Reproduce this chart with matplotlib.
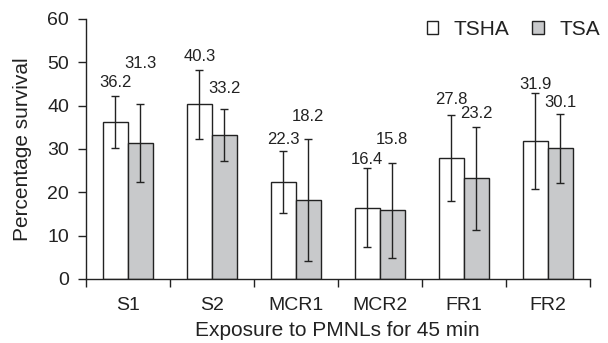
import numpy as np
import matplotlib
matplotlib.use('Agg')
from matplotlib import pyplot as plt

plt.rcParams['font.family'] = ['Liberation Sans', 'DejaVu Sans']

# data
groups = ['S1', 'S2', 'MCR1', 'MCR2', 'FR1', 'FR2']
tsha = [36.2, 40.3, 22.3, 16.4, 27.8, 31.9]
tsa = [31.3, 33.2, 18.2, 15.8, 23.2, 30.1]
tsha_err = [6.1, 8.0, 7.1, 9.1, 9.9, 11.1]
tsa_err = [9.0, 5.9, 14.1, 10.9, 11.9, 8.0]

# how far above the whisker top each value label sits (data units)
tsha_lbl_dy = [2.9, 3.0, 2.7, 2.1, 3.8, 1.8]
tsa_lbl_dy = [9.5, 4.9, 5.2, 5.4, 3.1, 2.6]

ink = '#222222'
grey = '#c8c9cb'
w = 0.295

fig = plt.figure(figsize=(6.08, 3.43), dpi=100)
ax = fig.add_axes([0.141, 0.187, 0.829, 0.758])

x = np.arange(len(groups))
err_kw = dict(ecolor=ink, elinewidth=1.0, capsize=2.9, capthick=1.0)

ax.bar(x - w / 2, tsha, w, color='white', edgecolor=ink, linewidth=1.0,
       yerr=tsha_err, error_kw=err_kw, label='TSHA', zorder=2)
ax.bar(x + w / 2, tsa, w, color=grey, edgecolor=ink, linewidth=1.0,
       yerr=tsa_err, error_kw=err_kw, label='TSA', zorder=2)

for i in range(len(groups)):
    ax.text(x[i] - w / 2, tsha[i] + tsha_err[i] + tsha_lbl_dy[i], f'{tsha[i]:.1f}',
            ha='center', va='center', fontsize=12, color=ink)
    ax.text(x[i] + w / 2, tsa[i] + tsa_err[i] + tsa_lbl_dy[i], f'{tsa[i]:.1f}',
            ha='center', va='center', fontsize=12, color=ink)

ax.set_xlim(-0.5, len(groups) - 0.5)
ax.set_ylim(0, 60)
ax.set_yticks(range(0, 61, 10))

# ticks between groups, names in the middle
ax.set_xticks(np.arange(-0.5, len(groups), 1.0))
ax.set_xticklabels([])
ax.set_xticks(x, minor=True)
ax.set_xticklabels(groups, minor=True)
ax.tick_params(axis='x', which='major', length=6, width=1.0, color=ink)
ax.tick_params(axis='x', which='minor', length=0, pad=13, labelsize=14, labelcolor=ink)
ax.tick_params(axis='y', length=6, width=1.0, pad=6, labelsize=14, color=ink, labelcolor=ink)

for s in ['top', 'right']:
    ax.spines[s].set_visible(False)
for s in ['left', 'bottom']:
    ax.spines[s].set_linewidth(1.0)
    ax.spines[s].set_color(ink)

ax.set_xlabel('Exposure to PMNLs for 45 min', fontsize=15, color=ink, labelpad=5)
ax.set_ylabel('Percentage survival', fontsize=15, color=ink, labelpad=11)

fig.legend(loc='center right', bbox_to_anchor=(600 / 608, 1 - 29.3 / 343), ncol=2,
           frameon=False, fontsize=15, handlelength=0.55, handleheight=0.55,
           handletextpad=0.75, columnspacing=1.1, borderpad=0, borderaxespad=0,
           labelcolor=ink)

fig.savefig('out.png', dpi=100)
